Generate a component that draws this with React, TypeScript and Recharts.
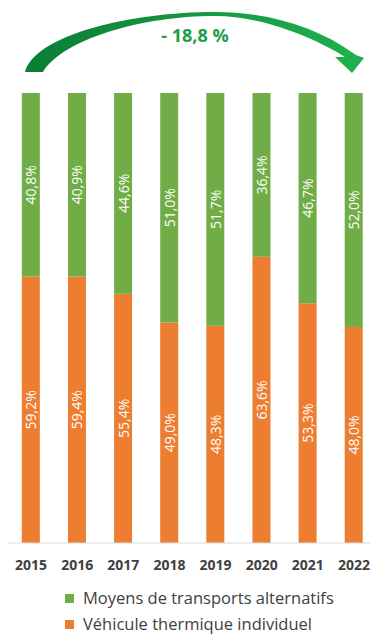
import { Bar, BarChart, Customized, LabelList, Legend, XAxis, YAxis } from "recharts"

const years = ["2015", "2016", "2017", "2018", "2019", "2020", "2021", "2022"]
const thermique = [59.2, 59.4, 55.4, 49.0, 48.3, 63.6, 53.3, 48.0]
const alternatifs = [40.8, 40.9, 44.6, 51.0, 51.7, 36.4, 46.7, 52.0]
const evolution = "- 18,8 %"

const data = years.map((year, i) => ({ year, thermique: thermique[i], alternatifs: alternatifs[i] }))

const fmt = (v: number) => v.toFixed(1).replace(".", ",") + "%"

const segLabel = (values: number[]) => (p: any) => {
  const cx = Number(p.x) + Number(p.width) / 2
  const cy = Number(p.y) + Number(p.height) / 2
  return (
    <text x={cx} y={cy} transform={`rotate(-90 ${cx} ${cy})`} textAnchor="middle" dominantBaseline="central"
      fill="#fff" fontSize={14} fontFamily="Open Sans">
      {fmt(values[p.index])}
    </text>
  )
}

// decorative curved arrow above the bars
function Arrow() {
  return (
    <g>
      <defs>
        <linearGradient id="arr" x1="0" y1="0" x2="1" y2="0">
          <stop offset="0%" stopColor="#0b7d36" />
          <stop offset="100%" stopColor="#20b24c" />
        </linearGradient>
      </defs>
      <path
        d="M 25 72 C 35 35, 130 12, 215 12 C 265 12, 315 25, 356 55 L 364 58 L 352 73 L 335 57 L 345 57 C 318 40, 265 16, 215 16 C 140 16, 62 40, 43 72 Z"
        fill="url(#arr)"
      />
      <text x={195} y={35} textAnchor="middle" dominantBaseline="central" fill="#1e9e4a" fontSize={18}
        fontWeight="bold" fontFamily="Open Sans">{evolution}</text>
    </g>
  )
}

function LegendBox({ payload }: any) {
  const items = [...(payload || [])]
  items.sort((a: any) => (a.dataKey === "alternatifs" ? -1 : 1))
  return (
    <div style={{ fontFamily: "Open Sans", fontSize: 16.5, color: "#404040" }}>
      {items.map((it: any) => (
        <div key={it.value} style={{ display: "flex", alignItems: "center", height: 26, lineHeight: "26px" }}>
          <span style={{ width: 9, height: 9, background: it.color, marginRight: 9, display: "inline-block" }} />
          {it.value}
        </div>
      ))}
    </div>
  )
}

export default function App() {
  return (
    <div style={{ position: "absolute", left: 0, top: 0, width: 370, height: 637, overflow: "hidden", background: "#fff" }}>
      <BarChart width={377} height={637} data={data} stackOffset="expand" barCategoryGap="30%"
        margin={{ top: 93, right: 0, bottom: 64, left: 8 }}>
        <XAxis dataKey="year" axisLine={{ stroke: "#d9d9d9" }} tickLine={false} tickMargin={11} interval={0}
          tick={{ fill: "#404040", fontSize: 14, fontWeight: "bold", fontFamily: "Open Sans" }} />
        <YAxis hide domain={[0, 1]} />
        <Legend layout="vertical" align="center" verticalAlign="middle" content={LegendBox}
          wrapperStyle={{ top: 585, left: 65, width: 305 }} />
        <Bar dataKey="thermique" name="Véhicule thermique individuel" stackId="a" fill="#ed7d31" isAnimationActive={false}>
          <LabelList dataKey="thermique" content={segLabel(thermique)} />
        </Bar>
        <Bar dataKey="alternatifs" name="Moyens de transports alternatifs" stackId="a" fill="#70ad47" isAnimationActive={false}>
          <LabelList dataKey="alternatifs" content={segLabel(alternatifs)} />
        </Bar>
        <Customized component={Arrow} />
      </BarChart>
    </div>
  )
}
